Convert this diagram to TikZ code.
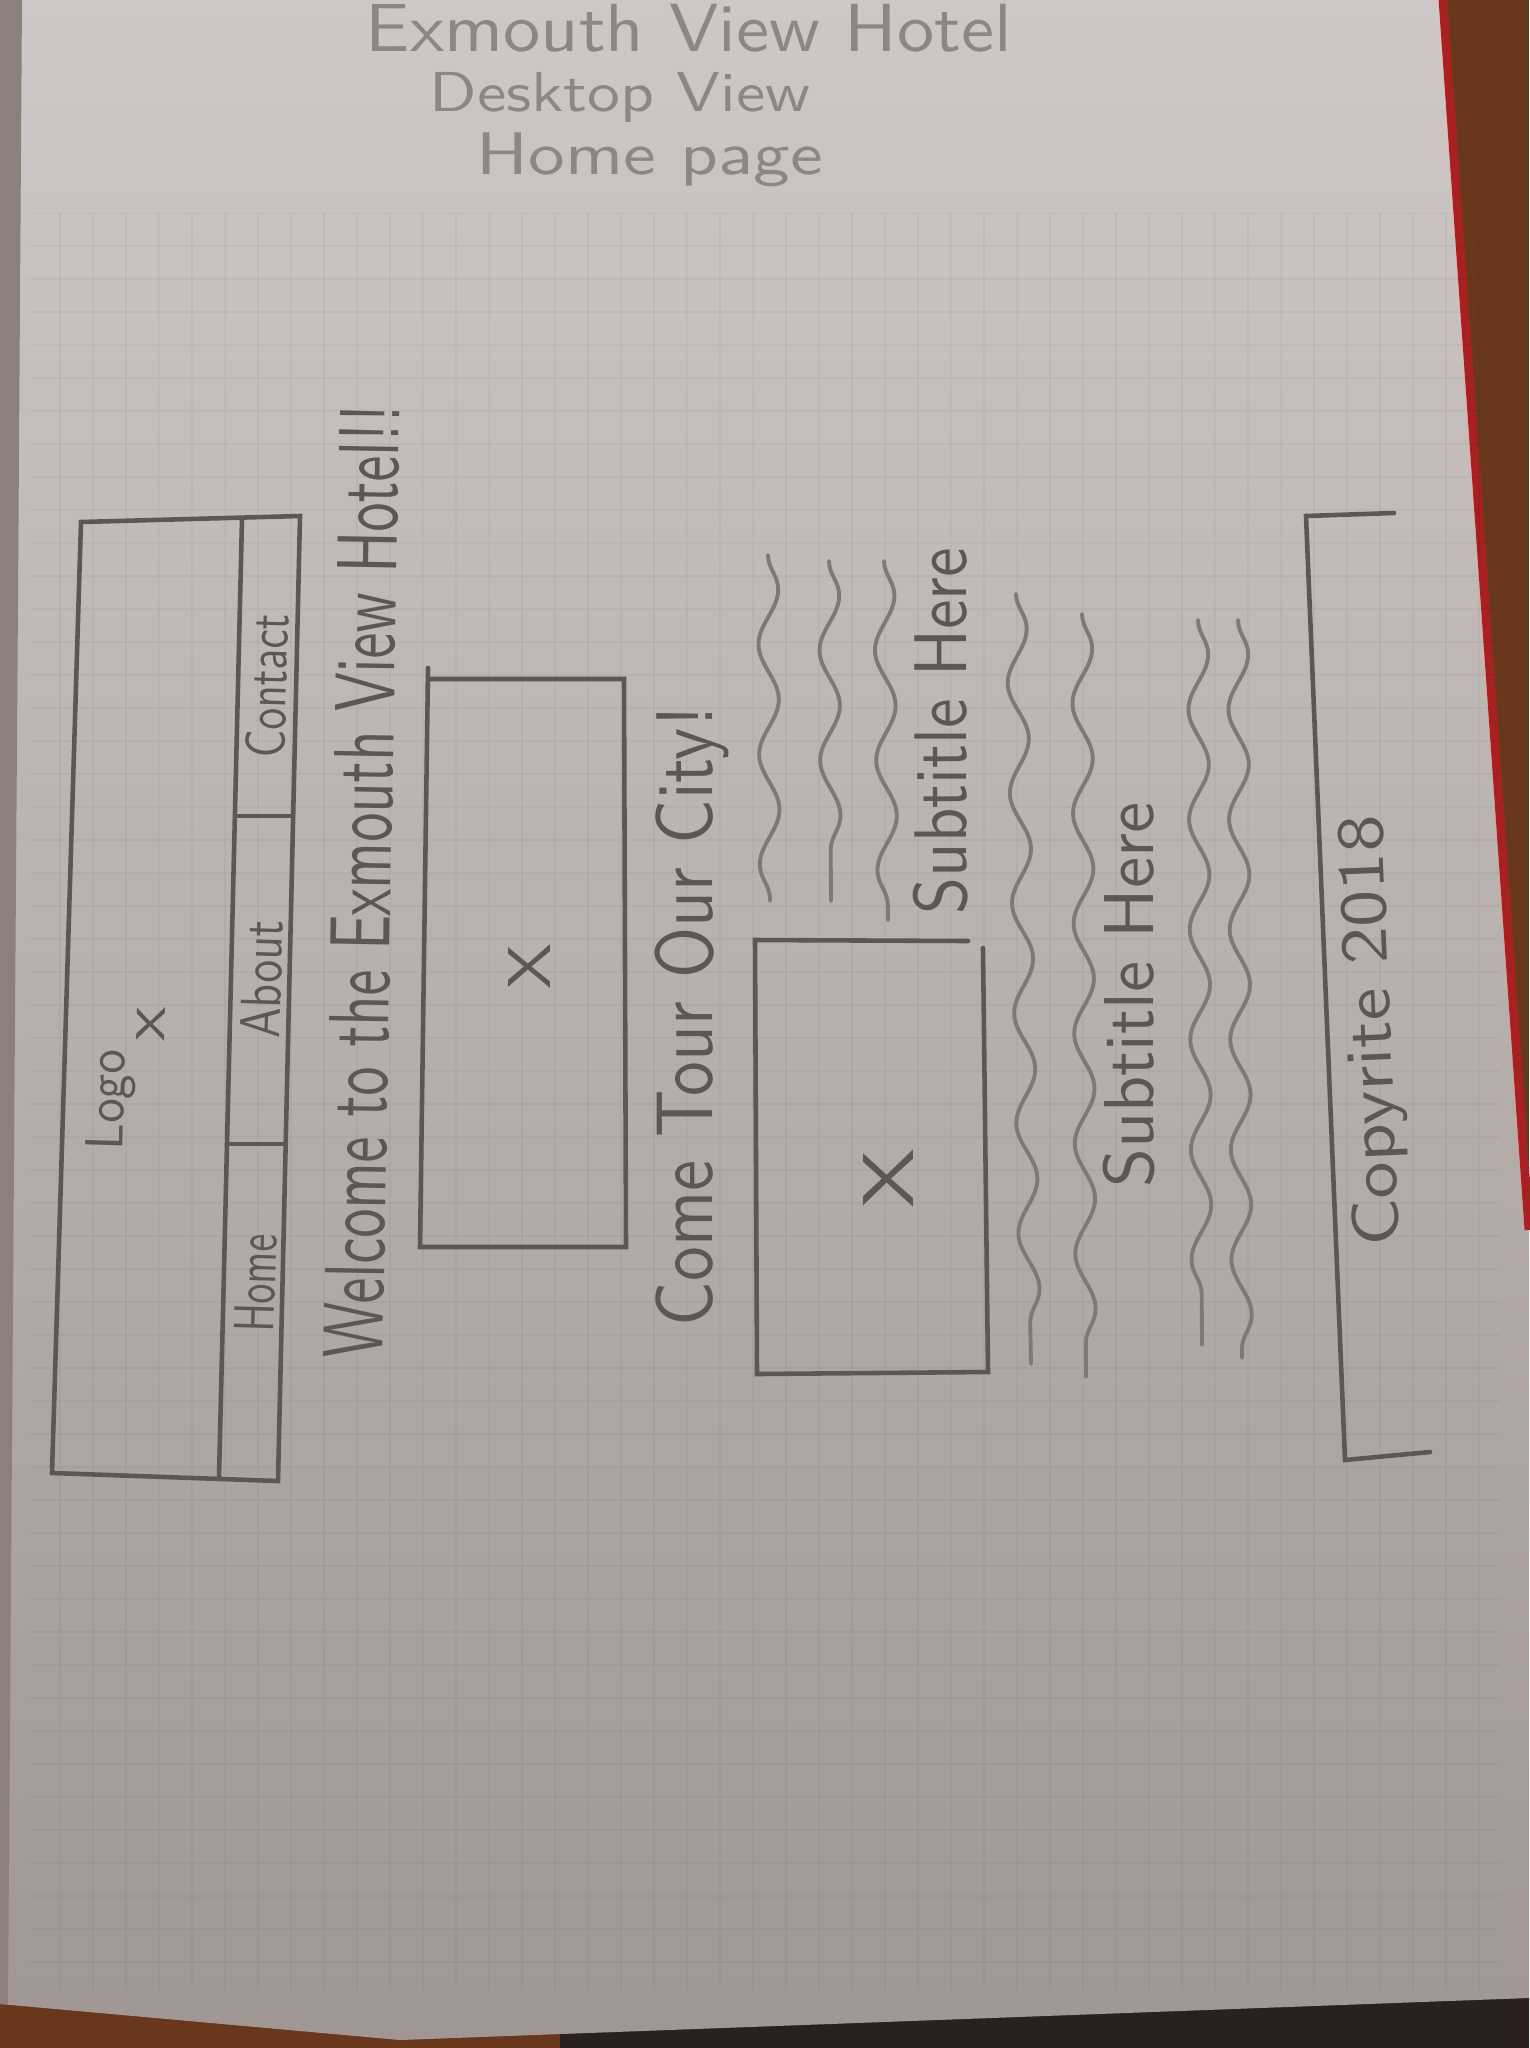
\documentclass[tikz,border=0pt]{standalone}
\usepackage{graphicx}
\usetikzlibrary{decorations.pathmorphing}
\definecolor{pencil}{RGB}{92,86,86}
\definecolor{softpencil}{RGB}{128,119,119}
\definecolor{titlepencil}{RGB}{142,133,133}
\definecolor{papertop}{RGB}{206,199,197}
\definecolor{paperbottom}{RGB}{160,151,148}
\definecolor{gutter}{RGB}{140,128,122}
\definecolor{tablewood}{RGB}{105,56,28}
\definecolor{coverred}{RGB}{168,32,32}
\definecolor{shadowband}{RGB}{42,32,30}
\newcommand{\handtext}[3]{\resizebox*{#1}{#2}{#3}}
\tikzset{
  boxline/.style={pencil, line width=1.3pt, line cap=round},
  scribble/.style={softpencil, line width=1.1pt, line cap=round, decorate,
    decoration={snake, segment length=1.1cm, amplitude=0.1cm}},
  sketchtext/.style={inner sep=0pt, text=pencil, font=\sffamily},
  titletext/.style={inner sep=0pt, text=titlepencil, font=\sffamily}
}

\begin{document}
\begin{tikzpicture}[x=0.01cm, y=-0.01cm]
\useasboundingbox (0,0) rectangle (1529,2048);
\fill[tablewood] (0,0) rectangle (1529,2048);
\fill[shadowband] (560,2012) -- (1529,1998) -- (1529,2048) -- (560,2048) -- cycle;
\shade[top color=papertop, bottom color=paperbottom]
  (0,0) -- (1443,0) -- (1529,1230) -- (1529,1998) -- (400,2040) -- (0,2004) -- cycle;
\fill[gutter] (0,0) -- (22,0) -- (18,600) -- (8,2004) -- (0,2004) -- cycle;
\draw[coverred, line width=2.5pt] (1443,0) -- (1529,1230);
\begin{scope}
\clip (30,213) rectangle (1500,1990);
\foreach \gx in {60,93,...,1500}
  \draw[black, opacity=0.03, line width=0.4pt] (\gx,213) -- (\gx,1990);
\foreach \gy in {213,246,...,1990}
  \draw[black, opacity=0.03, line width=0.4pt] (30,\gy) -- (1500,\gy);
\end{scope}

\node[titletext] (title) at (689,28) {\handtext{6.46cm}{0.48cm}{Exmouth View Hotel}};
\node[titletext] (view) at (620,97) {\handtext{3.8cm}{0.5cm}{Desktop View}};
\node[titletext] (page) at (650,160) {\handtext{3.46cm}{0.54cm}{Home page}};

\coordinate (hTL) at (81,522);
\coordinate (hTR) at (300,516);
\coordinate (hBR) at (278,1481);
\coordinate (hBL) at (52,1473);
\draw[boxline] (hTL) -- (hTR) -- (hBR) -- (hBL) -- cycle;
\draw[boxline] (242,519) -- (219,1478);
\draw[boxline] (235,816) -- (293,816);
\draw[boxline] (227,1144) -- (286,1144);
\node[sketchtext, rotate=88.3] (logo) at (111,1100) {\handtext{1.0cm}{0.48cm}{Logo}};
\node[sketchtext, rotate=88.3] (logox) at (151,1024) {\handtext{0.34cm}{0.28cm}{x}};
\node[sketchtext, rotate=88.3] (home) at (256,1283) {\handtext{0.98cm}{0.4cm}{Home}};
\node[sketchtext, rotate=88.3] (about) at (262,979) {\handtext{1.18cm}{0.4cm}{About}};
\node[sketchtext, rotate=88.3] (contact) at (267,686) {\handtext{1.44cm}{0.4cm}{Contact}};

\node[sketchtext, rotate=89] (welcome) at (362,881) {\handtext{9.53cm}{0.6cm}{Welcome to the Exmouth View Hotel!!}};

\draw[boxline] (428,668) -- (420,1247) -- (626,1247) -- (624,679) -- (428,679);
\node[sketchtext, rotate=90] (pic1) at (529,966) {\handtext{0.46cm}{0.42cm}{X}};

\node[sketchtext, rotate=90] (tour) at (692,1016) {\handtext{6.2cm}{0.74cm}{Come Tour Our City!}};

\draw[boxline] (968,941) -- (755,940) -- (757,1374) -- (988,1372) -- (983,948);
\node[sketchtext, rotate=90] (pic2) at (888,1178) {\handtext{0.6cm}{0.5cm}{X}};

\draw[scribble] (768,555) -- (770,901);
\draw[scribble] (829,561) -- (831,901);
\draw[scribble] (884,561) -- (888,920);
\node[sketchtext, rotate=90] (sub1) at (941,731) {\handtext{3.66cm}{0.55cm}{Subtitle Here}};

\draw[scribble] (1016,594) -- (1031,1364);
\draw[scribble] (1082,614) -- (1086,1377);
\node[sketchtext, rotate=90] (sub2) at (1129,995) {\handtext{3.85cm}{0.52cm}{Subtitle Here}};
\draw[scribble] (1198,620) -- (1202,1345);
\draw[scribble] (1238,620) -- (1242,1358);

\coordinate (fTL) at (1306,516);
\coordinate (fTR) at (1394,513);
\coordinate (fBL) at (1345,1460);
\coordinate (fBR) at (1430,1452);
\draw[boxline] (fTR) -- (fTL) -- (fBL) -- (fBR);
\node[sketchtext, rotate=92.4] (copy) at (1374,1031) {\handtext{4.31cm}{0.6cm}{Copyrite 2018}};
\end{tikzpicture}
\end{document}
